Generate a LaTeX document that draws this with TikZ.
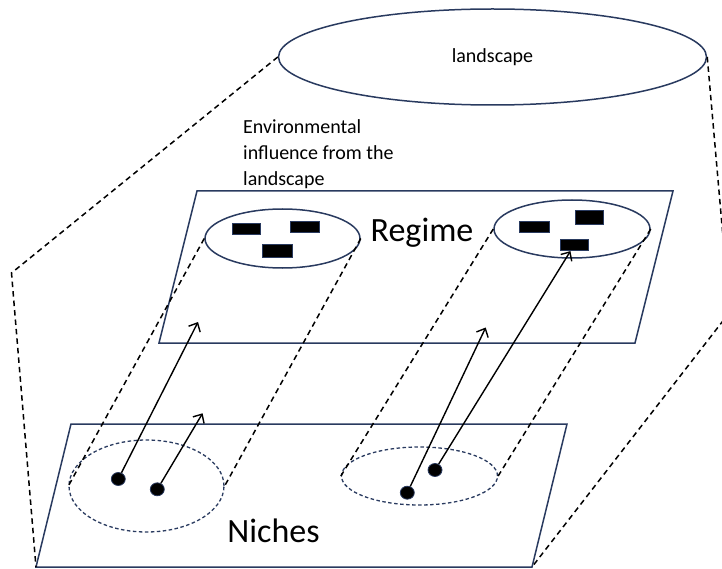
\documentclass[tikz,border=0pt]{standalone}
\usepackage{fontspec}
\setmainfont{Carlito}
\usetikzlibrary{arrows.meta,shapes.geometric}
\definecolor{navy}{RGB}{41,58,95}
\begin{document}
\begin{tikzpicture}[x=1pt,y=-1pt,
  plane/.style={draw=navy, line width=1.5pt, line join=miter},
  oval/.style={ellipse, draw=navy, line width=1.5pt, inner sep=0pt},
  nicheoval/.style={ellipse, draw=navy, line width=1.3pt, dash pattern=on 3.5pt off 2.5pt, inner sep=0pt},
  block/.style={draw=navy, fill=black, line width=0.8pt, inner sep=0pt, minimum width=29pt, minimum height=12pt},
  dot/.style={ellipse, fill=black, draw=navy, line width=0.8pt, minimum width=14pt, minimum height=13pt, inner sep=0pt},
  guide/.style={black, line width=1.5pt, dash pattern=on 5.5pt off 4pt},
  link/.style={black, line width=1.4pt, -{Straight Barb[length=7pt,width=13pt,line width=1.4pt]}},
  label/.style={font=\fontsize{20}{26}\selectfont, inner sep=0pt},
  title/.style={font=\fontsize{34}{40}\selectfont, inner sep=0pt}]

\useasboundingbox (0,0) rectangle (722,569);
\clip (0,0) rectangle (722,569);

% corners of the two planes
\coordinate (rTL) at (197,191);
\coordinate (rTR) at (673,191);
\coordinate (rBR) at (635,343);
\coordinate (rBL) at (159,343);
\coordinate (nTL) at (71,424);
\coordinate (nTR) at (567,424);
\coordinate (nBR) at (532,567);
\coordinate (nBL) at (36,567);

% regime plane and niche plane
\draw[plane] (rTL) -- (rTR) -- (rBR) -- (rBL) -- cycle;
\draw[plane] (nTL) -- (nTR) -- (nBR) -- (nBL) -- cycle;

% landscape
\node[oval, label, minimum width=428pt, minimum height=96pt] (land) at (492.5,57) {landscape};

% regime clusters
\node[oval, minimum width=155pt, minimum height=59pt] (regA) at (282.5,238.5) {};
\node[oval, minimum width=156pt, minimum height=58pt] (regB) at (572,229) {};

% niche clusters
\node[nicheoval, minimum width=155pt, minimum height=92pt] (nicA) at (146.5,486) {};
\node[nicheoval, minimum width=156pt, minimum height=58pt] (nicB) at (419.5,476) {};

% projection lines between the clusters
\draw[guide] (regA.west) -- (nicA.west);
\draw[guide] (regA.east) -- (nicA.east);
\draw[guide] (regB.west) -- (nicB.west);
\draw[guide] (regB.east) -- (nicB.east);

% landscape outline reaching down to the niche plane
\coordinate (bendL) at (11.5,273);
\coordinate (bendR) at (729.6,312.3);
\draw[guide] (land.west) -- (bendL) -- (nBL);
\draw[guide] (land.east) -- (bendR) -- (nBR);

% established practices in the regime
\node[block, minimum width=28pt, minimum height=11pt] (a1) at (246.2,228.8) {};
\node[block, minimum width=29pt, minimum height=11pt] (a2) at (304.7,227.2) {};
\node[block, minimum width=30pt, minimum height=13.4pt] (a3) at (277.7,251) {};
\node[block, minimum width=29.7pt, minimum height=11.7pt] (b1) at (534.2,226.8) {};
\node[block, minimum width=28.3pt, minimum height=14pt] (b2) at (589.2,217) {};
\node[block, minimum width=28.3pt, minimum height=11.4pt] (b3) at (574.2,245) {};

% innovations in the niches
\node[dot] (d1) at (118.3,479) {};
\node[dot] (d2) at (157.3,489.3) {};
\node[dot] (d3) at (407.3,492.7) {};
\node[dot] (d4) at (435,470) {};

\coordinate (t1) at (198,322);
\coordinate (t2) at (202.6,413.3);
\coordinate (t3) at (485.7,327.5);

\draw[link] (d1) -- (t1);
\draw[link] (d2) -- (t2);
\draw[link] (d3) -- (t3);
\draw[link] (d4) -- (b3);

% labels
\node[label, anchor=north west, align=left] (env) at (243,119.5) {Environmental\\influence from the\\landscape};
\node[title, anchor=base] (regime) at (422,241.7) {Regime};
\node[title, anchor=base] (niches) at (273.5,542) {Niches};
\end{tikzpicture}
\end{document}
